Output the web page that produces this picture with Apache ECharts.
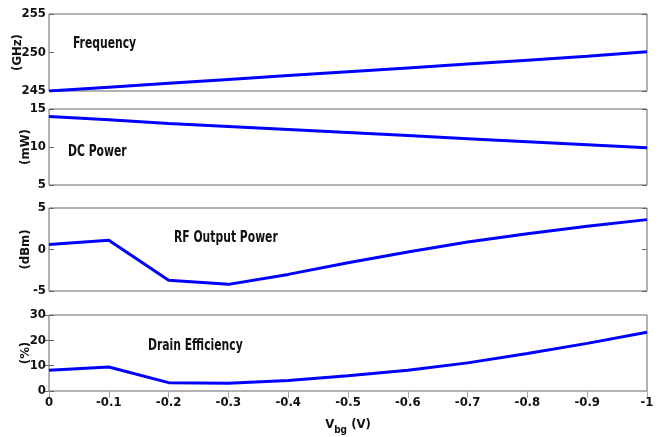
<!DOCTYPE html>
<html>
<head>
<meta charset="utf-8">
<script src="https://cdn.jsdelivr.net/npm/echarts@6/dist/echarts.min.js"></script>
<style>html,body{margin:0;padding:0;background:#fff;}#c{width:662px;height:437px;}</style>
</head>
<body>
<div id="c"></div>
<script>
var vbg = [0, -0.1, -0.2, -0.3, -0.4, -0.5, -0.6, -0.7, -0.8, -0.9, -1.0];
var frequency = [245.0, 245.5, 246.0, 246.5, 247.0, 247.5, 248.0, 248.5, 249.0, 249.5, 250.1];
var dcPower = [14.0, 13.6, 13.1, 12.7, 12.3, 11.9, 11.5, 11.1, 10.7, 10.3, 9.9];
var rfPower = [0.6, 1.1, -3.7, -4.2, -3.0, -1.6, -0.3, 0.9, 1.9, 2.8, 3.6];
var drainEff = [8.2, 9.5, 3.3, 3.1, 4.1, 6.0, 8.2, 11.1, 14.8, 18.8, 23.2];
var panelNames = ['Frequency', 'DC Power', 'RF Output Power', 'Drain Efficiency'];
var unitNames = ['(GHz)', '(mW)', '(dBm)', '(%)'];
var yRanges = [[245, 255, 5], [5, 15, 5], [-5, 5, 5], [0, 30, 10]];

var FONT = "'DejaVu Sans Condensed', 'Liberation Sans Narrow', 'Arial Narrow', sans-serif";
var series = [frequency, dcPower, rfPower, drainEff];
var grids = [
  {left: 49, right: 15, top: 14, height: 77},
  {left: 49, right: 15, top: 109, height: 76},
  {left: 49, right: 15, top: 208, height: 83},
  {left: 49, right: 15, top: 315, height: 76}
];
grids.forEach(function(g){ g.show = true; g.borderColor = '#666'; g.borderWidth = 1; g.backgroundColor = '#fff'; g.containLabel = false; g.outerBoundsMode = 'none'; });

var xAxes = [], yAxes = [], ser = [];
var nameGaps = [25, 17, 17, 17];
for (var i = 0; i < 4; i++) {
  var last = (i === 3);
  xAxes.push({
    type: 'value', gridIndex: i, min: -1, max: 0, interval: 0.1, inverse: true,
    position: 'bottom',
    axisLine: {show: false}, splitLine: {show: false},
    axisTick: {show: false},
    axisLabel: {show: last, margin: 5, fontFamily: FONT, fontWeight: 'bold', fontSize: 13, color: '#111',
      formatter: function(v){ return v === 0 ? '0' : String(+v.toFixed(1)); }},
    name: last ? '{v|V}{s|bg}{v| (V)}' : '',
    nameLocation: 'middle', nameGap: 24, nameMoveOverlap: false,
    nameTextStyle: {rich: {
      v: {fontFamily: FONT, fontWeight: 'bold', fontSize: 13, color: '#111'},
      s: {fontFamily: FONT, fontWeight: 'bold', fontSize: 10, color: '#111', verticalAlign: 'bottom', padding: [10, 0, 0, 0]}
    }}
  });
  if (last) {
    xAxes.push({
      type: 'value', gridIndex: i, min: -1, max: 0, interval: 0.1, inverse: true,
      position: 'top',
      axisLine: {show: false}, splitLine: {show: false},
      axisTick: {show: true, inside: true, length: 7, lineStyle: {color: '#aaa', width: 1}},
      axisLabel: {show: false}
    });
  }
  var r = yRanges[i];
  yAxes.push({
    type: 'value', gridIndex: i, min: r[0], max: r[1], interval: r[2], position: 'left',
    axisLine: {show: false}, splitLine: {show: false},
    axisTick: {show: true, inside: true, length: 5, lineStyle: {color: '#666'}},
    axisLabel: {margin: 3, fontFamily: FONT, fontWeight: 'bold', fontSize: 13, color: '#111'},
    name: unitNames[i], nameLocation: 'middle', nameGap: nameGaps[i], nameRotate: 90, nameMoveOverlap: false,
    nameTextStyle: {fontFamily: FONT, fontWeight: 'bold', fontSize: 13, color: '#111'}
  });
  yAxes.push({
    type: 'value', gridIndex: i, min: r[0], max: r[1], interval: r[2], position: 'right',
    axisLine: {show: false}, splitLine: {show: false},
    axisTick: {show: true, inside: true, length: 5, lineStyle: {color: '#666'}},
    axisLabel: {show: false}
  });
  ser.push({
    type: 'line', xAxisIndex: i, yAxisIndex: 2 * i,
    data: vbg.map(function(x, k){ return [x, series[i][k]]; }),
    symbol: 'none', lineStyle: {color: '#0000ff', width: 3}, animation: false
  });
}

var labelPos = [[73, 44], [68, 152], [174, 238], [148, 346]];
var graphics = panelNames.map(function(t, i){
  return {type: 'text', x: labelPos[i][0], y: labelPos[i][1], scaleX: 0.8,
    style: {text: t, fontFamily: FONT, fontWeight: 'bold', fontSize: 15, fill: '#111', verticalAlign: 'middle', align: 'left'}};
});

var chart = echarts.init(document.getElementById('c'), null, {renderer: 'canvas'});
chart.setOption({
  animation: false,
  grid: grids, xAxis: xAxes, yAxis: yAxes, series: ser, graphic: graphics
});
</script>
</body>
</html>
